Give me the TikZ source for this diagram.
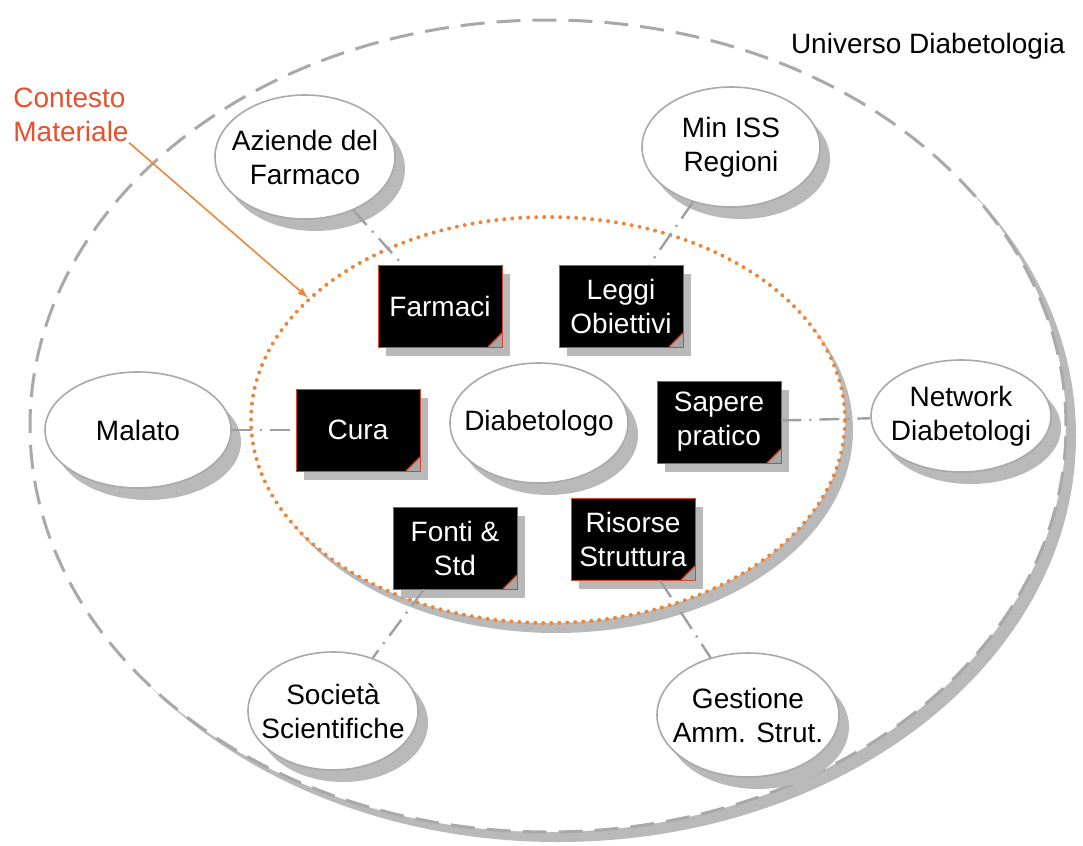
\documentclass[tikz,border=0pt]{standalone}
\usepackage{fontspec}
\setmainfont{Liberation Sans}
\definecolor{BoxLine}{RGB}{215,70,40}
\definecolor{CtxOrange}{RGB}{235,135,60}
\definecolor{CtxRed}{RGB}{230,80,45}
\definecolor{ShadowGray}{RGB}{185,185,185}
\definecolor{RimGray}{RGB}{170,168,168}
\usetikzlibrary{shapes,arrows,positioning,calc,shadows}

\begin{document}
\begin{tikzpicture}[
    x=0.5pt, y=-0.5pt,
    font=\fontsize{14}{17}\selectfont,
    universe/.style={ellipse, draw=RimGray, line width=1.5pt, dash pattern=on 12pt off 6pt,
                fill=white, minimum width=518pt, minimum height=406pt,
                drop shadow={shadow xshift=5pt, shadow yshift=-5pt, fill=ShadowGray, opacity=1}},
    context/.style={ellipse, draw=CtxOrange, line width=2pt, line cap=round,
                dash pattern=on 0pt off 4pt, fill=white, minimum width=297pt, minimum height=203pt,
                drop shadow={shadow xshift=4pt, shadow yshift=-5pt, fill=ShadowGray, opacity=1}},
    actor/.style={ellipse, draw=RimGray, thick, fill=white, inner sep=0pt,
                drop shadow={shadow xshift=5pt, shadow yshift=-6pt, fill=ShadowGray, opacity=1}},
    lbl/.style={align=center, text=black, inner sep=0pt},
    topic/.style={rectangle, fill=black, draw=BoxLine, text=white, align=center,
                minimum width=62pt, minimum height=41pt, inner sep=2pt,
                drop shadow={shadow xshift=4pt, shadow yshift=-4.5pt, fill=ShadowGray, opacity=1},
                path picture={
                  \fill[black!35] ([xshift=-7pt]path picture bounding box.south east)
                     -- ([yshift=7pt]path picture bounding box.south east)
                     -- (path picture bounding box.south east) -- cycle;
                  \draw[BoxLine, line width=0.6pt] ([xshift=-7pt]path picture bounding box.south east)
                     .. controls ([xshift=-3pt,yshift=4pt]path picture bounding box.south east)
                     .. ([yshift=7pt]path picture bounding box.south east);}},
    link/.style={draw=gray!75, line width=1.2pt, dash pattern=on 10pt off 4pt on 1pt off 4pt},
    arrow/.style={-latex, thick, CtxOrange}
]
\useasboundingbox (0,0) rectangle (1083,846);

% the two rings
\node[universe] (univ) at (548,426) {};
\node[context] (ctx) at (548,420) {};

\node[anchor=east] (univlbl) at (1072,46) {Universo Diabetologia};
\node[anchor=north west, align=left, text=CtxRed, inner sep=0pt] (ctxlbl) at (13,88) {Contesto\\Materiale};

% actors outside
\node[actor, minimum width=90pt, minimum height=62pt, label={[lbl]center:{Aziende del\\Farmaco}}] (azi) at (305,157) {};
\node[actor, minimum width=89pt, minimum height=60pt, label={[lbl]center:{Min ISS\\Regioni}}] (min) at (731,147) {};
\node[actor, minimum width=93pt, minimum height=58pt, label={[lbl]center:{Malato}}] (mal) at (138,430) {};
\node[actor, minimum width=90pt, minimum height=56pt, label={[lbl]center:{Network\\Diabetologi}}] (net) at (961,416) {};
\node[actor, minimum width=85pt, minimum height=59pt, label={[lbl]center:{Società\\Scientifiche}}] (soc) at (333,711) {};
\node[actor, minimum width=91pt, minimum height=62pt, label={[lbl]center:{Gestione\\Amm. Strut.}}] (ges) at (748,715) {};

% centre
\node[actor, minimum width=89pt, minimum height=60pt, label={[lbl]center:{Diabetologo}}] (dia) at (539,423) {};

% material topics
\node[topic] (far) at (440,306) {Farmaci};
\node[topic] (leg) at (621,306) {Leggi\\Obiettivi};
\node[topic] (cur) at (358,430) {Cura};
\node[topic] (sap) at (719,422) {Sapere\\pratico};
\node[topic] (fon) at (455,548) {Fonti \&\\Std};
\node[topic] (ris) at (633,539) {Risorse\\Struttura};

\draw[link] (azi) -- (far);
\draw[link] (min) -- (leg);
\draw[link] (mal) -- (cur);
\draw[link] (sap) -- (net);
\draw[link] (fon) -- (soc);
\draw[link] (ris) -- (ges);

\draw[arrow] (ctxlbl.south east) -- (ctx.153);

\end{tikzpicture}
\end{document}
